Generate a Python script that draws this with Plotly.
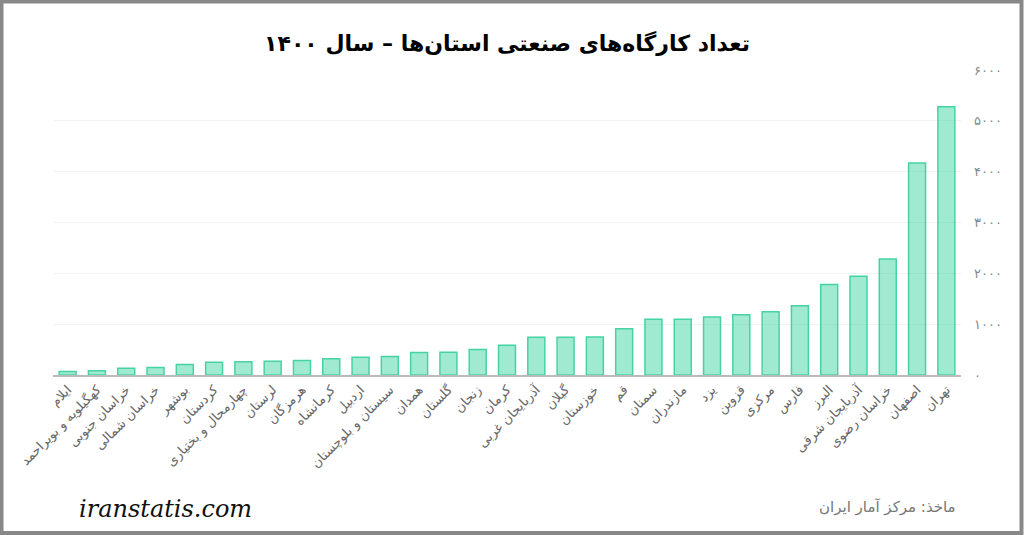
import plotly.graph_objects as go

provinces = ["ایلام", "کهگیلویه و بویراحمد", "خراسان جنوبی", "خراسان شمالی", "بوشهر",
             "کردستان", "چهارمحال و بختیاری", "لرستان", "هرمزگان", "کرمانشاه",
             "اردبیل", "سیستان و بلوچستان", "همدان", "گلستان", "زنجان",
             "کرمان", "آذربایجان غربی", "گیلان", "خوزستان", "قم",
             "سمنان", "مازندران", "یزد", "قزوین", "مرکزی",
             "فارس", "البرز", "آذربایجان شرقی", "خراسان رضوی", "اصفهان", "تهران"]
workshops = [69, 83, 134, 147, 206, 251, 259, 271, 285, 318,
             350, 363, 445, 450, 501, 585, 743, 743, 750, 908,
             1096, 1096, 1143, 1183, 1242, 1360, 1778, 1941, 2283, 4169, 5275]
tick_vals = [0, 1000, 2000, 3000, 4000, 5000, 6000]
tick_text = ["۰", "۱۰۰۰", "۲۰۰۰", "۳۰۰۰", "۴۰۰۰", "۵۰۰۰", "۶۰۰۰"]

W, H = 1024, 535
ML, MR, MT, MB = 53, 63, 70, 160
PW, PH = W - ML - MR, H - MT - MB

def px(x):
    return (x - ML) / PW

def py(y):
    return (H - MB - y) / PH

fig = go.Figure(go.Bar(
    x=provinces, y=workshops,
    marker=dict(color="rgba(66,214,164,0.5)", line=dict(color="#46d3a4", width=1.5)),
))

fig.update_layout(
    width=W, height=H,
    margin=dict(l=ML, r=MR, t=MT, b=MB, autoexpand=False),
    paper_bgcolor="white", plot_bgcolor="white",
    bargap=0.42, showlegend=False,
    font=dict(family="DejaVu Sans, Noto Sans, sans-serif"),
    title=dict(text="<b>تعداد کارگاه‌های صنعتی استان‌ها – سال ۱۴۰۰</b>",
               x=0.5, xref="paper", xanchor="center",
               y=1 - 43 / H, yanchor="middle", yref="container",
               font=dict(size=22, color="black", family="DejaVu Sans, sans-serif")),
    xaxis=dict(type="category", tickangle=-45, showgrid=False,
               tickfont=dict(size=13, color="#666"),
               showline=True, linecolor="#bbbbbb", linewidth=2, ticks=""),
    yaxis=dict(side="right", range=[0, 6000], tickvals=tick_vals, ticktext=tick_text,
               showgrid=True, gridcolor="#f1f1f1", gridwidth=1, zeroline=False,
               tickfont=dict(size=13, color="#888"), ticklabelstandoff=12),
    annotations=[
        dict(text="<i>iranstatis.com</i>", x=px(165), y=py(509), xref="paper", yref="paper",
             xanchor="center", yanchor="middle", showarrow=False,
             font=dict(size=24, color="#111", family="DejaVu Serif, Liberation Serif, serif")),
        dict(text="ماخذ: مرکز آمار ایران", x=px(887), y=py(507), xref="paper", yref="paper",
             xanchor="center", yanchor="middle", showarrow=False,
             font=dict(size=15, color="#777")),
    ],
    shapes=[dict(type="rect", xref="paper", yref="paper",
                 x0=px(1.5), x1=px(1021.5), y0=py(533), y1=py(1.5),
                 line=dict(color="#888", width=4), fillcolor="rgba(0,0,0,0)", layer="above")],
)

fig.write_html("out.html")
